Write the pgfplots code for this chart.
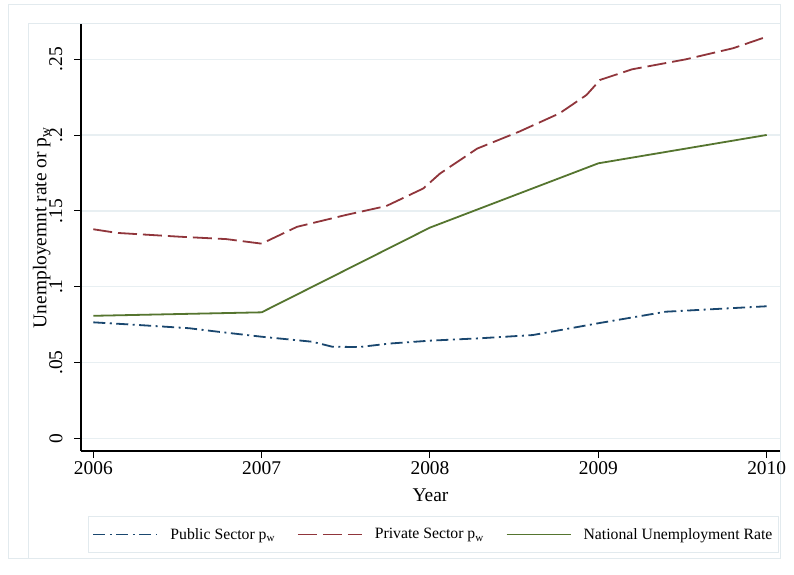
\documentclass[border=0pt]{standalone}
\usepackage{fontspec}
\setmainfont{Liberation Serif}
\usepackage{pgfplots}
\pgfplotsset{compat=1.18}

\definecolor{snavy}{RGB}{26,71,111}
\definecolor{smaroon}{RGB}{144,53,59}
\definecolor{sgreen}{RGB}{85,117,47}
\definecolor{sgrid}{RGB}{232,239,242}
\definecolor{sframe}{RGB}{226,234,238}

\begin{document}
\begin{tikzpicture}
\useasboundingbox (0bp,0bp) rectangle (794bp,575bp);
\fill[white] (0bp,0bp) rectangle (794bp,575bp);
% graph region frames
\draw[sframe, line width=1bp] (8bp,16bp) rectangle (780bp,570bp);
\draw[sframe, line width=1bp] (28bp,16bp) -- (28bp,551bp) -- (780bp,551bp);

\begin{axis}[
  at={(81bp,124bp)}, anchor=south west,
  scale only axis, width=699bp, height=427bp,
  xmin=2005.927, xmax=2010.079,
  ymin=-0.00838, ymax=0.2733,
  axis lines*=left,
  axis line style={black, line width=1.1bp},
  tick align=outside, major tick length=7bp,
  tick style={black, line width=1bp},
  xtick={2006,2007,2008,2009,2010},
  xticklabels={2006,2007,2008,2009,2010},
  ytick={0,0.05,0.1,0.15,0.2,0.25},
  yticklabels={0,.05,.1,.15,.2,.25},
  ymajorgrids,
  major grid style={sgrid, line width=1.5bp},
  /pgf/number format/assume math mode=true,
  ticklabel style={font=\fontsize{19.5}{22}\selectfont},
  yticklabel style={xshift=-8bp, rotate=90, anchor=south},
  xlabel={Year},
  xlabel style={font=\fontsize{19.5}{22}\selectfont, at={(axis description cs:0.5,-0.1171)}, anchor=base},
  ylabel={Unemployemnt rate or p\textsubscript{w}},
  ylabel style={font=\fontsize{19.5}{22}\selectfont, at={(axis description cs:-0.0494,0.523)}, rotate=0, anchor=base},
  legend columns=3,
  legend style={at={(axis description cs:0.5043,-0.1956)}, anchor=center,
    draw=sframe, fill=white, line width=1bp,
    inner xsep=4bp, inner ysep=10bp,
    font=\fontsize{15.8}{18}\selectfont,
    /tikz/every odd column/.append style={column sep=10bp},
    /tikz/every even column/.append style={column sep=20bp}},
  legend image code/.code={\draw[#1] (0bp,0bp) -- (64bp,0bp);},
  every axis plot/.append style={line width=1.8bp},
]
% Public sector p_w
\addplot[snavy, dash pattern=on 12bp off 4.5bp on 2bp off 4.5bp] coordinates {
(2006.00,0.0765) (2006.26,0.0748) (2006.57,0.0726) (2006.71,0.0707)
(2007.00,0.0670) (2007.30,0.0637) (2007.42,0.0604) (2007.58,0.0602)
(2007.76,0.0625) (2008.00,0.0644) (2008.30,0.0660) (2008.61,0.0681)
(2009.00,0.0759) (2009.40,0.0835) (2010.00,0.0871)
};
% Private sector p_w
\addplot[smaroon, dash pattern=on 19bp off 6bp] coordinates {
(2006.00,0.1379) (2006.14,0.1355) (2006.51,0.1330) (2006.79,0.1314)
(2007.00,0.1284) (2007.21,0.1395) (2007.50,0.1473) (2007.74,0.1532)
(2007.96,0.1648) (2008.06,0.1747) (2008.28,0.1911) (2008.53,0.2023)
(2008.77,0.2144) (2008.93,0.2265) (2009.01,0.2364) (2009.20,0.2434)
(2009.52,0.2500) (2009.80,0.2573) (2010.00,0.2649)
};
% National unemployment rate
\addplot[sgreen] coordinates {
(2006,0.0808) (2007,0.0831) (2008,0.1390) (2009,0.1814) (2010,0.2001)
};
\legend{Public Sector p\textsubscript{w}, Private Sector p\textsubscript{w}, National Unemployment Rate}
\end{axis}
\end{tikzpicture}
\end{document}
